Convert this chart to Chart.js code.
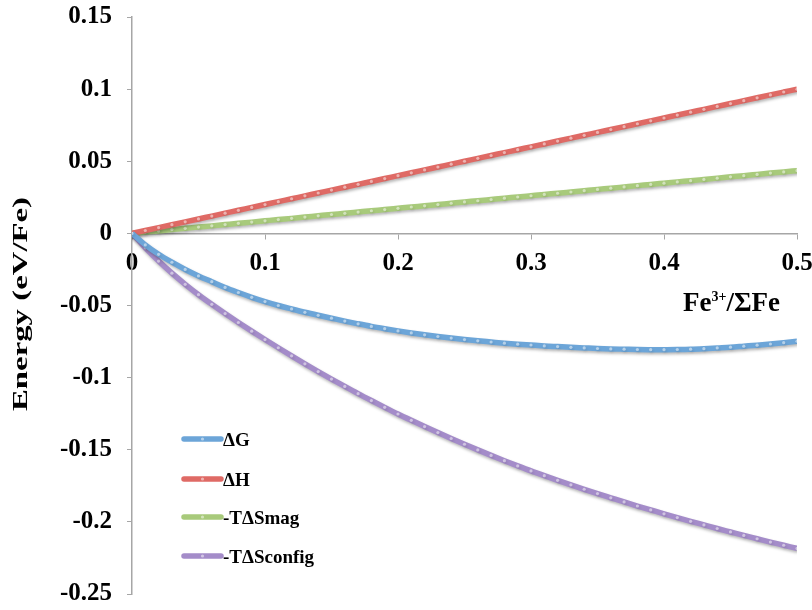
<!DOCTYPE html>
<html>
<head>
<meta charset="utf-8">
<script src="https://cdn.jsdelivr.net/npm/chart.js@4.4.1/dist/chart.umd.min.js"></script>
<style>
html,body{margin:0;padding:0;background:#fff;}
#wrap{width:812px;height:610px;position:relative;}
</style>
</head>
<body>
<div id="wrap"><canvas id="c" width="812" height="610"></canvas></div>
<script>
// ---- data ----
const xValues = [0,0.01,0.02,0.03,0.04,0.05,0.06,0.07,0.08,0.09,0.10,0.11,0.12,0.13,0.14,0.15,0.16,0.17,0.18,0.19,0.20,0.21,0.22,0.23,0.24,0.25,0.26,0.27,0.28,0.29,0.30,0.31,0.32,0.33,0.34,0.35,0.36,0.37,0.38,0.39,0.40,0.41,0.42,0.43,0.44,0.45,0.46,0.47,0.48,0.49,0.50];
const dG = [0,-0.0080,-0.0145,-0.0200,-0.0250,-0.0295,-0.0335,-0.0375,-0.0410,-0.0443,-0.0473,-0.0500,-0.0524,-0.0547,-0.0568,-0.0588,-0.0608,-0.0627,-0.0645,-0.0661,-0.0676,-0.0690,-0.0703,-0.0715,-0.0726,-0.0736,-0.0745,-0.0753,-0.0761,-0.0768,-0.0774,-0.0780,-0.0785,-0.0790,-0.0794,-0.0798,-0.0801,-0.0803,-0.0805,-0.0806,-0.0806,-0.0805,-0.0803,-0.0799,-0.0794,-0.0789,-0.0782,-0.0775,-0.0767,-0.0758,-0.0748];
const dH = [0,0.002,0.004,0.006,0.008,0.010,0.012,0.014,0.016,0.018,0.020,0.022,0.024,0.026,0.028,0.030,0.032,0.034,0.036,0.038,0.040,0.042,0.044,0.046,0.048,0.050,0.052,0.054,0.056,0.058,0.060,0.062,0.064,0.066,0.068,0.070,0.072,0.074,0.076,0.078,0.080,0.082,0.084,0.086,0.088,0.090,0.092,0.094,0.096,0.098,0.100];
const tSmag = [0,0.0009,0.0017,0.0026,0.0035,0.0044,0.0052,0.0061,0.0070,0.0078,0.0087,0.0096,0.0104,0.0113,0.0122,0.0131,0.0139,0.0148,0.0157,0.0165,0.0174,0.0183,0.0191,0.0200,0.0209,0.0218,0.0226,0.0235,0.0244,0.0252,0.0261,0.0270,0.0278,0.0287,0.0296,0.0305,0.0313,0.0322,0.0331,0.0339,0.0348,0.0357,0.0365,0.0374,0.0383,0.0392,0.0400,0.0409,0.0418,0.0426,0.0435];
const tSconfig = [0,-0.0100,-0.0192,-0.0276,-0.0353,-0.0425,-0.0492,-0.0556,-0.0618,-0.0678,-0.0736,-0.0793,-0.0849,-0.0904,-0.0958,-0.1010,-0.1061,-0.1111,-0.1159,-0.1206,-0.1252,-0.1296,-0.1339,-0.1381,-0.1422,-0.1462,-0.1501,-0.1539,-0.1576,-0.1612,-0.1647,-0.1680,-0.1712,-0.1743,-0.1774,-0.1804,-0.1833,-0.1862,-0.1890,-0.1917,-0.1944,-0.1970,-0.1996,-0.2021,-0.2046,-0.2070,-0.2094,-0.2117,-0.2140,-0.2162,-0.2184];
const seriesLabels = ['ΔG','ΔH','-TΔSmag','-TΔSconfig'];
const xTickValues = [0,0.1,0.2,0.3,0.4,0.5];
const xTickLabels = ['0','0.1','0.2','0.3','0.4','0.5'];
const yTickValues = [-0.25,-0.2,-0.15,-0.1,-0.05,0,0.05,0.1,0.15];
const yTickLabels = ['-0.25','-0.2','-0.15','-0.1','-0.05','0','0.05','0.1','0.15'];
const yTitle = 'Energy (eV/Fe)';

const colors = ['#6ca5d8','#df6a65','#a8ca7b','#a48cc9'];
const SERIF = '"Liberation Serif","Times New Roman",serif';
const AXIS = '#a6a6a6';

function pts(arr){ return arr.map((v,i)=>({x:xValues[i], y:v})); }
const allSeries = [dG, dH, tSmag, tSconfig];
const datasets = allSeries.map((s,i)=>({
  label: seriesLabels[i],
  data: pts(s),
  borderColor: colors[i],
  backgroundColor: colors[i],
  borderWidth: 5.5,
  pointRadius: 1.6,
  pointBorderWidth: 0,
  pointBackgroundColor: 'rgba(255,255,255,0.5)',
  cubicInterpolationMode: 'monotone',
  fill: false
}));

const shadowPlugin = {
  id:'shadow',
  beforeDatasetsDraw(chart){
    const ctx = chart.ctx; ctx.save();
    ctx.shadowColor='rgba(0,0,0,0.28)'; ctx.shadowBlur=3; ctx.shadowOffsetX=1; ctx.shadowOffsetY=2;
  },
  afterDatasetsDraw(chart){ chart.ctx.restore(); }
};

const textPlugin = {
  id:'texts',
  afterDraw(chart){
    const ctx = chart.ctx;
    ctx.save();
    // y title
    ctx.font = 'bold 22px ' + SERIF;
    ctx.fillStyle = '#000';
    ctx.textAlign = 'center'; ctx.textBaseline = 'middle';
    const w = ctx.measureText(yTitle).width;
    ctx.translate(21, 304);
    ctx.rotate(-Math.PI/2);
    ctx.scale(214 / w, 1);
    ctx.fillText(yTitle, 0, 0);
    ctx.restore();

    // x label  Fe3+/ΣFe
    ctx.save();
    ctx.fillStyle='#000'; ctx.textBaseline='alphabetic'; ctx.textAlign='left';
    let x0 = 683, yb = 311;
    ctx.font = 'bold 27px ' + SERIF;
    ctx.fillText('Fe', x0, yb); x0 += ctx.measureText('Fe').width;
    ctx.font = 'bold 14px ' + SERIF;
    ctx.fillText('3+', x0, yb-10); x0 += ctx.measureText('3+').width;
    ctx.font = 'bold 27px ' + SERIF;
    ctx.fillText('/ΣFe', x0, yb);
    ctx.restore();

    // legend
    ctx.save();
    const rows = [439, 479, 517, 556];
    chart.data.datasets.forEach((ds,i)=>{
      const y = rows[i];
      ctx.strokeStyle = ds.borderColor; ctx.lineWidth = 5.5; ctx.lineCap='round';
      ctx.beginPath(); ctx.moveTo(184, y); ctx.lineTo(221, y); ctx.stroke();
      ctx.fillStyle='rgba(255,255,255,0.5)';
      ctx.beginPath(); ctx.arc(202.5, y, 1.6, 0, Math.PI*2); ctx.fill();
      ctx.fillStyle='#000'; ctx.font='bold 19px ' + SERIF;
      ctx.textAlign='left'; ctx.textBaseline='middle';
      ctx.fillText(ds.label, 223, y+2);
    });
    ctx.restore();
  }
};

new Chart(document.getElementById('c'), {
  type:'line',
  data:{ datasets },
  options:{
    responsive:false,
    animation:false,
    layout:{ padding:{ top:17, right:15, bottom:16, left:0 } },
    plugins:{ legend:{display:false}, tooltip:{enabled:false} },
    scales:{
      x:{
        type:'linear', min:0, max:0.5,
        position:{ y:0 },
        afterBuildTicks(scale){ scale.ticks = xTickValues.map(v=>({value:v})); },
        afterFit(scale){ scale.paddingLeft = 0; scale.paddingRight = 0; },
        ticks:{
          callback:(v)=>{ const i = xTickValues.findIndex(t=>Math.abs(t-v)<1e-9); return i>=0 ? xTickLabels[i] : ''; },
          font:{ family:SERIF, size:25, weight:'bold' }, color:'#000', padding:10, maxRotation:0, autoSkip:false
        },
        grid:{ drawOnChartArea:false, drawTicks:true, tickLength:5, color:AXIS },
        border:{ color:AXIS, width:1.5 }
      },
      y:{
        type:'linear', min:-0.25, max:0.15,
        afterBuildTicks(scale){ scale.ticks = yTickValues.map(v=>({value:v})); },
        afterFit(scale){ scale.width = 132; scale.paddingTop = 0; scale.paddingBottom = 0; },
        ticks:{
          callback:(v)=>{ const i = yTickValues.findIndex(t=>Math.abs(t-v)<1e-9); return i>=0 ? yTickLabels[i] : ''; },
          font:{ family:SERIF, size:25, weight:'bold' }, color:'#000', padding:15
        },
        grid:{ drawOnChartArea:false, drawTicks:true, tickLength:5, color:AXIS },
        border:{ color:AXIS, width:1.5 }
      }
    }
  },
  plugins:[shadowPlugin, textPlugin]
});
</script>
</body>
</html>
